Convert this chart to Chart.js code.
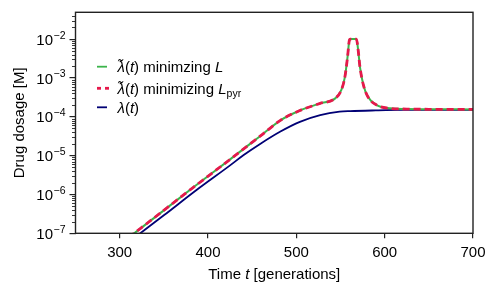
<!DOCTYPE html>
<html><head><meta charset="utf-8">
<script src="https://cdn.jsdelivr.net/npm/chart.js@4"></script>
<style>html,body{margin:0;padding:0;background:#fff}#wrap{width:498px;height:294px;position:relative}</style>
</head><body><div id="wrap"><canvas id="c" width="498" height="294"></canvas></div>
<script>
// ---- data ----
const timesTilde = [310, 350, 382, 425, 448, 459, 482, 504, 527, 544, 551, 555, 558, 560, 561, 568, 570, 572, 576, 581, 591, 606, 625, 650, 700];
const doseMinL   = [7.7e-8, 3.9e-7, 1.44e-6, 8.0e-6, 2.04e-5, 3.16e-5, 8.1e-5, 1.45e-4, 2.21e-4, 2.98e-4, 4.9e-4, 1.07e-3, 3.5e-3, 9.3e-3, 1.0e-2, 1.0e-2, 5.2e-3, 1.94e-3, 6.5e-4, 3.27e-4, 2.0e-4, 1.65e-4, 1.58e-4, 1.56e-4, 1.55e-4];
const doseMinLpyr = [7.7e-8, 3.9e-7, 1.44e-6, 8.0e-6, 2.04e-5, 3.16e-5, 8.1e-5, 1.45e-4, 2.21e-4, 2.98e-4, 4.9e-4, 1.07e-3, 3.5e-3, 9.3e-3, 1.0e-2, 1.0e-2, 5.2e-3, 1.94e-3, 6.5e-4, 3.27e-4, 2.0e-4, 1.65e-4, 1.58e-4, 1.56e-4, 1.55e-4];
const timesLambda = [315, 350, 387, 425, 440, 459, 482, 504, 527, 549, 561, 590, 620, 700];
const doseLambda  = [7.2e-8, 2.9e-7, 1.30e-6, 5.6e-6, 1.02e-5, 2.0e-5, 4.17e-5, 7.4e-5, 1.10e-4, 1.35e-4, 1.40e-4, 1.46e-4, 1.50e-4, 1.51e-4];
const xTickValues = [300, 400, 500, 600, 700];
const yTickExponents = [-7, -6, -5, -4, -3, -2];
const xRange = [250, 700];
const yRange = [1e-7, 0.049];

const FONT = '"Liberation Sans", Arial, sans-serif';
const FS = 15, FS_SMALL = 10.5;
const GREEN = '#3cb44b', RED = '#e6194b', NAVY = '#000075';

function pts(xs, ys){ return xs.map((x,i)=>({x:x, y:ys[i]})); }

const overlay = {
  id: 'overlay',
  afterDraw(chart){
    const ctx = chart.ctx, ca = chart.chartArea, ys = chart.scales.y;
    ctx.save();
    // frame
    ctx.strokeStyle = '#222'; ctx.lineWidth = 1.4;
    ctx.strokeRect(ca.left, ca.top, ca.right - ca.left, ca.bottom - ca.top);
    // minor y ticks
    ctx.lineWidth = 0.9;
    for (let e = -7; e <= -2; e++) {
      for (let k = 2; k <= 9; k++) {
        const v = k * Math.pow(10, e);
        if (v > yRange[1]) continue;
        const py = Math.round(ys.getPixelForValue(v)) + 0.5;
        ctx.beginPath(); ctx.moveTo(ca.left, py); ctx.lineTo(ca.left - 3.5, py); ctx.stroke();
      }
    }
    // y tick labels 10^n
    ctx.fillStyle = '#000';
    yTickExponents.forEach(e => {
      const py = ys.getPixelForValue(Math.pow(10, e));
      const sup = '\u2212' + Math.abs(e);
      ctx.font = FS_SMALL + 'px ' + FONT;
      const ws = ctx.measureText(sup).width;
      ctx.font = FS + 'px ' + FONT;
      const wb = ctx.measureText('10').width;
      const right = ca.left - 10;
      ctx.textAlign = 'left'; ctx.textBaseline = 'alphabetic';
      ctx.fillText('10', right - ws - wb - 0.5, py + 5.6);
      ctx.font = FS_SMALL + 'px ' + FONT;
      ctx.fillText(sup, right - ws, py - 0.5);
    });
    // y title
    ctx.save();
    ctx.translate(24, (ca.top + ca.bottom) / 2);
    ctx.rotate(-Math.PI / 2);
    ctx.font = FS + 'px ' + FONT; ctx.textAlign = 'center'; ctx.textBaseline = 'alphabetic';
    ctx.fillText('Drug dosage [M]', 0, 0);
    ctx.restore();
    // x title with italic t
    const parts = [['Time ', false], ['t', true], [' [generations]', false]];
    drawRich(ctx, parts, (ca.left + ca.right) / 2, 278.5, 'center');
    // legend
    const lx0 = 97, lx1 = 107, tx = 117.5;
    const rows = [
      {y: 66.7, color: GREEN, dash: [], w: 1.8, parts: [['\u03bb\u0303', true], ['(', false], ['t', true], [') minimzing ', false], ['L', true]]},
      {y: 88.3, color: RED, dash: [4, 4], w: 2.8, parts: [['\u03bb\u0303', true], ['(', false], ['t', true], [') minimizing ', false], ['L', true], ['pyr', false, true]]},
      {y: 107.3, color: NAVY, dash: [], w: 1.8, parts: [['\u03bb', true], ['(', false], ['t', true], [')', false]]}
    ];
    rows.forEach(r => {
      ctx.strokeStyle = r.color; ctx.lineWidth = r.w; ctx.setLineDash(r.dash);
      ctx.beginPath(); ctx.moveTo(lx0, r.y); ctx.lineTo(lx1 + (r.dash.length ? 3 : 0), r.y); ctx.stroke();
      ctx.setLineDash([]);
      drawRich(ctx, r.parts, tx, r.y + 5.3, 'left');
    });
    ctx.restore();
  }
};

function drawRich(ctx, parts, x, y, align){
  const fontOf = p => (p[1] ? 'italic ' : '') + (p[2] ? FS_SMALL : FS) + 'px ' + FONT;
  let total = 0;
  parts.forEach(p => { ctx.font = fontOf(p); total += ctx.measureText(p[0]).width; });
  let cx = align === 'center' ? x - total / 2 : x;
  ctx.fillStyle = '#000'; ctx.textAlign = 'left'; ctx.textBaseline = 'alphabetic';
  parts.forEach(p => {
    ctx.font = fontOf(p);
    ctx.fillText(p[0], cx, y + (p[2] ? 3 : 0));
    cx += ctx.measureText(p[0]).width;
  });
}

new Chart(document.getElementById('c'), {
  type: 'line',
  data: {
    datasets: [
      {label: 'minimizing Lpyr', data: pts(timesTilde, doseMinLpyr), borderColor: RED, borderWidth: 2.8, borderDash: [7, 4], pointRadius: 0, cubicInterpolationMode: 'monotone', order: 0, fill: false},
      {label: 'minimzing L', data: pts(timesTilde, doseMinL), borderColor: GREEN, borderWidth: 2, pointRadius: 0, cubicInterpolationMode: 'monotone', order: 1, fill: false},
      {label: 'lambda', data: pts(timesLambda, doseLambda), borderColor: NAVY, borderWidth: 1.8, pointRadius: 0, cubicInterpolationMode: 'monotone', order: 2, fill: false}
    ]
  },
  options: {
    responsive: false, animation: false, devicePixelRatio: 1,
    layout: {padding: {left: 0, right: 25, top: 12.3, bottom: 0}},
    plugins: {legend: {display: false}, tooltip: {enabled: false}},
    scales: {
      x: {
        type: 'linear', min: xRange[0], max: xRange[1],
        afterBuildTicks: s => { s.ticks = xTickValues.map(v => ({value: v})); },
        afterFit: s => { s.height = 60.7; },
        border: {display: false},
        grid: {drawOnChartArea: false, drawTicks: true, tickLength: 5, color: '#222', lineWidth: 1.2},
        ticks: {color: '#000', font: {family: FONT, size: FS}, padding: 6, maxRotation: 0}
      },
      y: {
        type: 'logarithmic', min: yRange[0], max: yRange[1],
        afterBuildTicks: s => { s.ticks = yTickExponents.map(e => ({value: Math.pow(10, e)})); },
        afterFit: s => { s.width = 75.5; },
        border: {display: false},
        grid: {drawOnChartArea: false, drawTicks: true, tickLength: 6, color: '#222', lineWidth: 1.2},
        ticks: {callback: () => '', font: {size: FS}}
      }
    }
  },
  plugins: [overlay]
});
</script>
</body></html>
